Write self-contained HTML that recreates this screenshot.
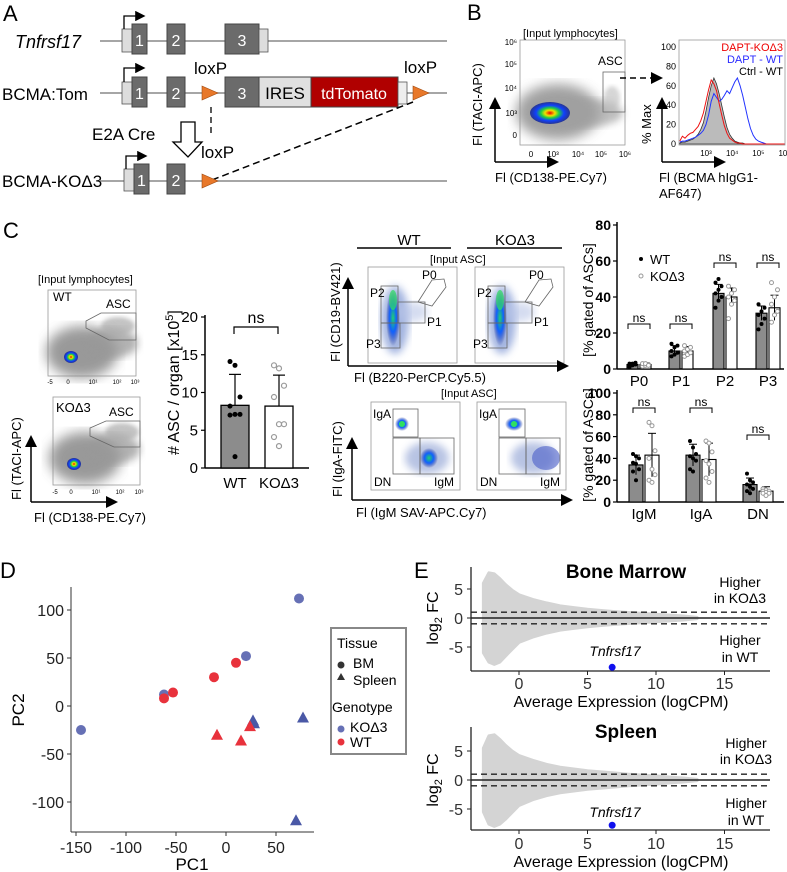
<!DOCTYPE html>
<html><head><meta charset="utf-8">
<style>
body{margin:0;background:#fff;}
svg{display:block;font-family:"Liberation Sans Narrow","Liberation Sans",sans-serif;}
</style></head>
<body>
<svg id="fig" width="787" height="872" viewBox="0 0 787 872" xmlns="http://www.w3.org/2000/svg">
<defs>
<filter id="blur2"><feGaussianBlur stdDeviation="2"/></filter>
<filter id="blur4"><feGaussianBlur stdDeviation="4"/></filter>
<filter id="blur6"><feGaussianBlur stdDeviation="6"/></filter>
<radialGradient id="heat" cx="0.5" cy="0.5" r="0.5">
<stop offset="0" stop-color="#e00"/><stop offset="0.25" stop-color="#f0e000"/><stop offset="0.45" stop-color="#20d040"/><stop offset="0.7" stop-color="#1040ff"/><stop offset="1" stop-color="#1a2a90" stop-opacity="0.9"/></radialGradient>
<radialGradient id="heat2" cx="0.5" cy="0.5" r="0.5">
<stop offset="0" stop-color="#20d070"/><stop offset="0.5" stop-color="#1060ff"/><stop offset="1" stop-color="#1a2a90" stop-opacity="0"/></radialGradient>
<marker id="ah" markerWidth="8" markerHeight="8" refX="6" refY="4" orient="auto"><path d="M0,0 L8,4 L0,8 z" fill="#000"/></marker>
</defs>

<!-- ===== Panel A ===== -->
<g>
<text x="3" y="21" font-size="22">A</text>
<g>
<line x1="100" y1="41" x2="447" y2="41" stroke="#888" stroke-width="1.5"/>
<rect x="122" y="29" width="10" height="23" fill="#ddd" stroke="#555" stroke-width="0.8"/>
<rect x="132" y="24" width="15" height="30" fill="#6b6b6b" stroke="#444"/>
<rect x="167" y="24" width="18" height="30" fill="#6b6b6b" stroke="#444"/>
<rect x="225" y="24" width="34" height="30" fill="#6b6b6b" stroke="#444"/>
<rect x="259" y="29" width="9" height="23" fill="#ddd" stroke="#555" stroke-width="0.8"/>
<text x="139.5" y="46" font-size="16" fill="#fff" text-anchor="middle">1</text>
<text x="176" y="46" font-size="16" fill="#fff" text-anchor="middle">2</text>
<text x="242" y="46" font-size="16" fill="#fff" text-anchor="middle">3</text>
<path d="M124,29 V16 H143" fill="none" stroke="#000" stroke-width="1.3" marker-end="url(#ah)"/>
<text x="15" y="48" font-size="18" font-style="italic">Tnfrsf17</text>
</g>
<g>
<line x1="100" y1="93" x2="447" y2="93" stroke="#888" stroke-width="1.5"/>
<rect x="122" y="82" width="10" height="22" fill="#ddd" stroke="#555" stroke-width="0.8"/>
<rect x="132" y="77" width="15" height="30" fill="#6b6b6b" stroke="#444"/>
<rect x="167" y="77" width="18" height="30" fill="#6b6b6b" stroke="#444"/>
<path d="M202,86 L218,93 L202,100 z" fill="#e8782a" stroke="#a04a10" stroke-width="0.6"/>
<rect x="225" y="77" width="34" height="30" fill="#6b6b6b" stroke="#444"/>
<rect x="259" y="77" width="52" height="30" fill="#e0e0e0" stroke="#444"/>
<rect x="311" y="77" width="87" height="30" fill="#b00000" stroke="#444"/>
<rect x="398" y="82" width="9" height="22" fill="#eee" stroke="#555" stroke-width="0.8"/>
<path d="M413,86 L429,93 L413,100 z" fill="#e8782a" stroke="#a04a10" stroke-width="0.6"/>
<text x="139.5" y="99" font-size="16" fill="#fff" text-anchor="middle">1</text>
<text x="176" y="99" font-size="16" fill="#fff" text-anchor="middle">2</text>
<text x="242" y="99" font-size="16" fill="#fff" text-anchor="middle">3</text>
<text x="285" y="99" font-size="17" text-anchor="middle">IRES</text>
<text x="354" y="99" font-size="16" fill="#fff" text-anchor="middle">tdTomato</text>
<path d="M124,82 V68 H143" fill="none" stroke="#000" stroke-width="1.3" marker-end="url(#ah)"/>
<text x="194" y="74" font-size="17">loxP</text>
<text x="404" y="73" font-size="17">loxP</text>
<text x="2" y="100" font-size="17">BCMA:Tom</text>
</g>
<line x1="211" y1="107" x2="211" y2="137" stroke="#000" stroke-width="1.3" stroke-dasharray="6,4"/>
<line x1="212" y1="180" x2="413" y2="102" stroke="#000" stroke-width="1.5" stroke-dasharray="7,4"/>
<path d="M181,122 H195 V142 H202 L188,157 L173,142 H181 z" fill="#fff" stroke="#000" stroke-width="1.3"/>
<text x="92" y="140" font-size="17">E2A Cre</text>
<g>
<line x1="100" y1="181" x2="447" y2="181" stroke="#888" stroke-width="1.5"/>
<rect x="124" y="169" width="10" height="22" fill="#ddd" stroke="#555" stroke-width="0.8"/>
<rect x="134" y="164" width="15" height="30" fill="#6b6b6b" stroke="#444"/>
<rect x="167" y="164" width="18" height="30" fill="#6b6b6b" stroke="#444"/>
<path d="M202,174 L218,181 L202,188 z" fill="#e8782a" stroke="#a04a10" stroke-width="0.6"/>
<text x="141.5" y="186" font-size="16" fill="#fff" text-anchor="middle">1</text>
<text x="176" y="186" font-size="16" fill="#fff" text-anchor="middle">2</text>
<path d="M126,169 V156 H145" fill="none" stroke="#000" stroke-width="1.3" marker-end="url(#ah)"/>
<text x="201" y="158" font-size="17">loxP</text>
<text x="2" y="187" font-size="17">BCMA-KOΔ3</text>
</g>
</g>

<!-- ===== Panel B ===== -->
<g>
<text x="467" y="20" font-size="22">B</text>
<g>
<rect x="520" y="40" width="105" height="105" fill="#fff" stroke="#999" stroke-width="0.8"/>
<ellipse cx="558" cy="112" rx="42" ry="28" fill="#909090" filter="url(#blur6)" opacity="0.85"/>
<ellipse cx="585" cy="113" rx="38" ry="14" fill="#a0a0a0" filter="url(#blur4)" opacity="0.7"/>
<ellipse cx="612" cy="98" rx="8" ry="12" fill="#bbb" filter="url(#blur2)" opacity="0.6"/>
<ellipse cx="550" cy="113" rx="20" ry="11" fill="url(#heat)"/>
<rect x="603" y="72" width="22" height="40" fill="none" stroke="#666" stroke-width="0.8"/>
<text x="598" y="65" font-size="12">ASC</text>
<text x="523" y="37" font-size="11">[Input lymphocytes]</text>
<g font-size="8" text-anchor="end">
<text x="517" y="45">10⁶</text><text x="517" y="67">10⁵</text><text x="517" y="91">10⁴</text><text x="517" y="116">10³</text><text x="517" y="138">0</text></g>
<g font-size="8" text-anchor="middle">
<text x="531" y="157">0</text><text x="553" y="157">10³</text><text x="578" y="157">10⁴</text><text x="601" y="157">10⁵</text><text x="625" y="157">10⁶</text></g>
<line x1="495" y1="162" x2="495" y2="100" stroke="#000" stroke-width="1.5" marker-end="url(#ah)"/>
<line x1="495" y1="162" x2="556" y2="162" stroke="#000" stroke-width="1.5" marker-end="url(#ah)"/>
<text transform="translate(482,146) rotate(-90)" font-size="13">Fl (TACI-APC)</text>
<text x="495" y="182" font-size="13">Fl (CD138-PE.Cy7)</text>
</g>
<line x1="620" y1="78" x2="660" y2="78" stroke="#000" stroke-width="1.5" stroke-dasharray="6,4" marker-end="url(#ah)"/>
<g id="histo">
<rect x="679" y="40" width="106" height="105" fill="#fff" stroke="#999" stroke-width="0.8"/>
<line x1="662" y1="162" x2="662" y2="100" stroke="#000" stroke-width="1.5" marker-end="url(#ah)"/>
<line x1="662" y1="162" x2="723" y2="162" stroke="#000" stroke-width="1.5" marker-end="url(#ah)"/>
<text transform="translate(651,144) rotate(-90)" font-size="13">% Max</text>
<text x="659" y="182" font-size="13">Fl (BCMA hIgG1-</text>
<text x="659" y="198" font-size="13">AF647)</text>
<text x="783" y="51" font-size="11" fill="#e00" text-anchor="end">DAPT-KOΔ3</text>
<text x="783" y="63" font-size="11" fill="#2a2aff" text-anchor="end">DAPT - WT</text>
<text x="783" y="75" font-size="11" fill="#000" text-anchor="end">Ctrl - WT</text>
</g>
</g>

<!-- ===== Panel C ===== -->
<g>
<text x="3" y="238" font-size="22">C</text>
<text x="38" y="283" font-size="11">[Input lymphocytes]</text>
<g>
<rect x="48" y="290" width="88" height="86" fill="#fff" stroke="#999" stroke-width="0.8"/>
<ellipse cx="82" cy="352" rx="36" ry="26" fill="#888" filter="url(#blur6)" opacity="0.85"/>
<ellipse cx="112" cy="343" rx="26" ry="15" fill="#999" filter="url(#blur4)" opacity="0.75"/>
<ellipse cx="118" cy="326" rx="17" ry="9" fill="#aaa" filter="url(#blur2)" opacity="0.7"/>
<ellipse cx="71" cy="357" rx="7" ry="6" fill="url(#heat)"/>
<polygon points="86,321 101,313 136,313 136,340 109,340 86,328" fill="none" stroke="#666" stroke-width="0.8"/>
<text x="53" y="301" font-size="12">WT</text><text x="106" y="308" font-size="12">ASC</text>
<g font-size="6" text-anchor="middle"><text x="50" y="384">-5</text><text x="68" y="384">0</text><text x="93" y="384">10¹</text><text x="117" y="384">10²</text><text x="135" y="384">10³</text></g>
</g>
<g>
<rect x="53" y="397" width="87" height="88" fill="#fff" stroke="#999" stroke-width="0.8"/>
<ellipse cx="85" cy="458" rx="36" ry="26" fill="#888" filter="url(#blur6)" opacity="0.85"/>
<ellipse cx="114" cy="449" rx="26" ry="15" fill="#999" filter="url(#blur4)" opacity="0.75"/>
<ellipse cx="122" cy="432" rx="17" ry="9" fill="#aaa" filter="url(#blur2)" opacity="0.7"/>
<ellipse cx="74" cy="464" rx="7" ry="6" fill="url(#heat)"/>
<polygon points="90,428 106,421 140,421 140,447 114,447 90,436" fill="none" stroke="#666" stroke-width="0.8"/>
<text x="56" y="412" font-size="13">KOΔ3</text><text x="109" y="416" font-size="12">ASC</text>
<g font-size="6" text-anchor="middle"><text x="55" y="494">-5</text><text x="71" y="494">0</text><text x="96" y="494">10¹</text><text x="120" y="494">10²</text><text x="139" y="494">10³</text></g>
</g>
<line x1="31" y1="502" x2="31" y2="438" stroke="#000" stroke-width="1.5" marker-end="url(#ah)"/>
<line x1="31" y1="502" x2="115" y2="502" stroke="#000" stroke-width="1.5" marker-end="url(#ah)"/>
<text transform="translate(21,500) rotate(-90)" font-size="13">Fl (TACI-APC)</text>
<text x="34" y="522" font-size="13">Fl (CD138-PE.Cy7)</text>

<g id="ascbar"></g>

<text x="409" y="245" font-size="15" text-anchor="middle">WT</text>
<text x="515" y="245" font-size="15" text-anchor="middle">KOΔ3</text>
<line x1="357" y1="248" x2="451" y2="248" stroke="#000" stroke-width="1.5"/>
<line x1="467" y1="248" x2="562" y2="248" stroke="#000" stroke-width="1.5"/>
<text x="430" y="263" font-size="11">[Input ASC]</text>
<g id="cd19wt"></g>
<g id="cd19ko"></g>
<line x1="348" y1="366" x2="348" y2="280" stroke="#000" stroke-width="1.5" marker-end="url(#ah)"/>
<line x1="348" y1="366" x2="566" y2="366" stroke="#000" stroke-width="1.5" marker-end="url(#ah)"/>
<text transform="translate(340,362) rotate(-90)" font-size="13">Fl (CD19-BV421)</text>
<text x="354" y="382" font-size="13">Fl (B220-PerCP.Cy5.5)</text>
<text x="441" y="397" font-size="11">[Input ASC]</text>
<g id="igawt"></g>
<g id="igako"></g>
<line x1="352" y1="500" x2="352" y2="440" stroke="#000" stroke-width="1.5" marker-end="url(#ah)"/>
<line x1="352" y1="500" x2="570" y2="500" stroke="#000" stroke-width="1.5" marker-end="url(#ah)"/>
<text transform="translate(342,497) rotate(-90)" font-size="13">Fl (IgA-FITC)</text>
<text x="356" y="517" font-size="13">Fl (IgM SAV-APC.Cy7)</text>

<g id="pchart"></g>
<g id="igchart"></g>
</g>

<g id="pca">
<text x="0" y="578" font-size="22">D</text>
</g>
<g id="ma">
<text x="414" y="578" font-size="22">E</text>
</g>
</svg>

<script>
const histX = [2.0,2.1,2.2,2.3,2.4,2.5,2.6,2.7,2.8,2.9,3.0,3.1,3.2,3.3,3.4,3.5,3.6,3.7,3.8,3.9,4.0,4.1,4.2,4.3,4.4,4.5,4.6,4.7,4.8,4.9,5.0,5.1,5.2,5.3,5.4,5.5,5.6,5.7,5.8,5.9,6.0];
const histCtrl = [1,2,2,3,4,5,7,10,15,22,34,48,60,68,62,52,40,28,17,10,6,3,2,1,1,0,0,0,0,0,0,0,0,0,0,0,0,0,0,0,0];
const histDaptKO = [3,8,6,9,11,12,15,18,24,32,44,56,66,62,55,42,30,19,11,6,4,2,1,1,0,0,0,0,0,0,0,0,0,0,0,0,0,0,0,0,0];
const histDaptWT = [2,3,3,4,5,6,7,9,11,14,20,30,44,52,48,44,46,50,55,52,58,64,68,60,50,38,26,16,9,5,3,2,1,0,0,0,0,0,0,0,0];
const ascGroups = ['WT','KOΔ3'];
const ascMean = [8.3, 8.2];
const ascSD = [4.1, 4.1];
const ascWT = [14.1, 13.6, 9.4, 8.2, 7.1, 7.1, 7.0, 1.5];
const ascKO = [13.6, 13.2, 10.9, 9.4, 5.8, 5.8, 4.1, 2.9];
const ascTicks = [0,5,10,15,20];
const subsetCats = ['P0','P1','P2','P3'];
const subsetWT = [2.5, 10, 42, 31];
const subsetKO = [2.5, 10, 40, 34];
const subsetWTsd = [1, 3, 5, 4];
const subsetKOsd = [1, 2.5, 5, 7];
const subsetWTpts = [[1,2,2.5,3,3,3.5,2],[7,8,9,10,12,13,14],[34,38,40,42,44,46,48,50],[22,25,28,30,32,34,36]];
const subsetKOpts = [[1.5,2,2.5,3,3,2],[7,8,9,10,11,12,13],[28,36,38,40,42,44,46],[26,30,32,36,40,44,48]];
const subsetTicks = [0,20,40,60,80];
const isoCats = ['IgM','IgA','DN'];
const isoWT = [34, 43, 16];
const isoKO = [43, 39, 10];
const isoWTsd = [9, 10, 6];
const isoKOsd = [20, 15, 4];
const isoWTpts = [[44,42,40,36,35,30,28,20],[56,50,44,42,40,38,30,28],[26,20,18,16,14,12,10,8]];
const isoKOpts = [[73,70,47,40,30,25,20,18],[56,54,46,38,35,28,22,18],[12,11,10,10,9,8,8,6]];
const isoTicks = [0,20,40,60,80,100];
const pcaBMKO_x = [-145,-62,20,73];   const pcaBMKO_y = [-25,12,52,112];
const pcaBMWT_x = [-62,-53,-12,10];   const pcaBMWT_y = [8,14,30,45];
const pcaSpKO_x = [27,28,77,70];      const pcaSpKO_y = [-15,-18,-12,-119];
const pcaSpWT_x = [-9,15,24];         const pcaSpWT_y = [-30,-36,-21];
const pcaXTicks = [-150,-100,-50,0,50];
const pcaYTicks = [-100,-50,0,50,100];
const maEnvX = [-2.6,-2.2,-1.8,-1.4,-1,-0.5,0,1,2,3,4,5,6,7,8,9,10,11,12,13];
const maBMUpper = [6.0,7.8,7.6,6.8,5.8,4.8,4.0,3.2,2.6,2.1,1.8,1.5,1.3,1.1,0.95,0.8,0.65,0.5,0.35,0.1];
const maBMLower = [-6.0,-7.6,-8.0,-7.6,-6.6,-5.4,-4.2,-3.3,-2.6,-2.1,-1.8,-1.5,-1.3,-1.1,-0.95,-0.8,-0.65,-0.5,-0.35,-0.1];
const maSpUpper = [5.5,7.6,7.8,7.0,6.0,5.0,4.2,3.4,2.7,2.2,1.9,1.6,1.4,1.2,1.0,0.85,0.7,0.5,0.35,0.1];
const maSpLower = [-5.5,-7.6,-8.0,-7.6,-6.8,-5.6,-4.4,-3.4,-2.7,-2.2,-1.9,-1.6,-1.4,-1.2,-1.0,-0.85,-0.7,-0.5,-0.35,-0.1];
const maGeneBM = [6.8, -8.5];
const maGeneSp = [6.8, -7.8];
const maXTicks = [0,5,10,15];
const maYTicks = [-5,0,5];

const NS='http://www.w3.org/2000/svg';
function mk(tag, attrs, name, parent){
  const e=document.createElementNS(NS,tag);
  for(const k in attrs) e.setAttribute(k,attrs[k]);
  
  
  parent.appendChild(e); return e;
}
function txt(x,y,s,size,parent,name,extra){
  const a=Object.assign({x:x,y:y,'font-size':size},extra||{});
  const e=mk('text',a,name,parent); e.textContent=s; return e;
}

(function(){
  const g=document.getElementById('histo');
  const hx=v=>706+(v-3)*26.2, hy=v=>144-v*0.97;
  const ticksY=[0,20,40,60,80,100];
  ticksY.forEach(t=>{ txt(676,hy(t)+3,String(t),9,g,'histo-y-tick',{'text-anchor':'end'}); });
  ['10³','10⁴','10⁵','10⁶'].forEach((s,i)=>{ txt(hx(3+i),156,s,8,g,'histo-x-tick',{'text-anchor':'middle'}); });
  let d='M'+hx(histX[0])+','+hy(0);
  histX.forEach((x,i)=>{ d+=' L'+hx(x).toFixed(1)+','+hy(histCtrl[i]).toFixed(1); });
  d+=' L'+hx(histX[histX.length-1])+','+hy(0)+' Z';
  mk('path',{d:d,fill:'#bbb',stroke:'#333','stroke-width':0.8},'histo-ctrl-wt',g);
  function line(arr,col,name){
    let p=''; histX.forEach((x,i)=>{ p+=(i?' L':'M')+hx(x).toFixed(1)+','+hy(arr[i]).toFixed(1); });
    mk('path',{d:p,fill:'none',stroke:col,'stroke-width':1},name,g);
  }
  line(histDaptWT,'#2233ff','histo-dapt-wt');
  line(histDaptKO,'#ee1111','histo-dapt-ko');
})();

(function(){
  const g=document.getElementById('ascbar');
  const y=v=>468-v*7.55;
  const xc=[235,279];
  mk('line',{x1:205,y1:y(20)-2,x2:205,y2:468,stroke:'#000','stroke-width':1.5},'asc-y-axis',g);
  mk('line',{x1:205,y1:468,x2:309,y2:468,stroke:'#000','stroke-width':1.5},'asc-x-axis',g);
  ascTicks.forEach(t=>{
    mk('line',{x1:201,y1:y(t),x2:205,y2:y(t),stroke:'#000','stroke-width':1.2},'asc-y-tick',g);
    txt(198,y(t)+5,String(t),15,g,'asc-y-tick-label',{'text-anchor':'end'});
  });
  ascGroups.forEach((c,i)=>{
    mk('rect',{x:xc[i]-14,y:y(ascMean[i]),width:28,height:468-y(ascMean[i]),fill:i?'#fff':'#8c8c8c',stroke:'#000','stroke-width':1.3},'asc-bar-'+i,g);
    mk('line',{x1:xc[i],y1:y(ascMean[i]+ascSD[i]),x2:xc[i],y2:y(ascMean[i]),stroke:'#000','stroke-width':1.2},'asc-error',g);
    mk('line',{x1:xc[i]-6,y1:y(ascMean[i]+ascSD[i]),x2:xc[i]+6,y2:y(ascMean[i]+ascSD[i]),stroke:'#000','stroke-width':1.2},'asc-error-cap',g);
    txt(xc[i],488,c,15,g,'asc-x-label',{'text-anchor':'middle'});
  });
  ascWT.forEach((v,i)=>{ mk('circle',{cx:xc[0]+((i%3)-1)*5,cy:y(v),r:2.5,fill:'#000'},'asc-wt-point',g); });
  ascKO.forEach((v,i)=>{ mk('circle',{cx:xc[1]+((i%3)-1)*5,cy:y(v),r:2.5,fill:'#fff',stroke:'#999','stroke-width':1.2},'asc-ko-point',g); });
  mk('path',{d:'M234,334 V327 H278 V334',fill:'none',stroke:'#000','stroke-width':1.2},'asc-ns-bracket',g);
  txt(256,323,'ns',16,g,'asc-ns',{'text-anchor':'middle'});
  const t=txt(0,0,'',16,g,'asc-y-axis-title',{transform:'translate(179,455) rotate(-90)'});
  t.innerHTML='# ASC / organ [x10<tspan dy="-6" font-size="11">5</tspan><tspan dy="6">]</tspan>';
})();

function cd19Plot(id,dx){
  const g=document.getElementById(id);
  mk('rect',{x:368+dx,y:267,width:89,height:96,fill:'#fff',stroke:'#999','stroke-width':0.8},'plot-frame',g);
  mk('ellipse',{cx:395+dx,cy:320,rx:14,ry:34,fill:'#8aa0d8',filter:'url(#blur4)',opacity:0.8},'cloud',g);
  mk('ellipse',{cx:410+dx,cy:312,rx:18,ry:10,fill:'#b8c4e6',filter:'url(#blur4)',opacity:0.6},'cloud',g);
  mk('ellipse',{cx:393+dx,cy:318,rx:7,ry:28,fill:'url(#heat2)'},'dense-core',g);
  mk('ellipse',{cx:393+dx,cy:300,rx:4,ry:10,fill:'#30e060',opacity:0.7},'dense-core',g);
  mk('polygon',{points:[[418,302],[432,280],[444,279],[446,287],[432,306]].map(p=>(p[0]+dx)+','+p[1]).join(' '),fill:'none',stroke:'#666','stroke-width':0.8},'gate-p0',g);
  mk('rect',{x:381+dx,y:286,width:17,height:37,fill:'none',stroke:'#666','stroke-width':0.8},'gate-p2',g);
  mk('rect',{x:398+dx,y:302,width:27,height:21,fill:'none',stroke:'#666','stroke-width':0.8},'gate-p1',g);
  mk('rect',{x:381+dx,y:323,width:19,height:25,fill:'none',stroke:'#666','stroke-width':0.8},'gate-p3',g);
  txt(422+dx,279,'P0',12,g,'label-p0');
  txt(370+dx,297,'P2',12,g,'label-p2');
  txt(427+dx,326,'P1',12,g,'label-p1');
  txt(366+dx,348,'P3',12,g,'label-p3');
}
cd19Plot('cd19wt',0); cd19Plot('cd19ko',107);
function igPlot(id,dx,wt){
  const g=document.getElementById(id);
  mk('rect',{x:371+dx,y:402,width:89,height:88,fill:'#fff',stroke:'#999','stroke-width':0.8},'plot-frame',g);
  mk('ellipse',{cx:427+dx,cy:458,rx:22,ry:16,fill:'#9aaad8',filter:'url(#blur4)',opacity:0.7},'cloud',g);
  mk('ellipse',{cx:(wt?429:440)+dx,cy:458,rx:wt?9:14,ry:wt?10:12,fill:wt?'url(#heat2)':'#4a5ec8',opacity:wt?1:0.6},'igm-cluster',g);
  mk('ellipse',{cx:(wt?402:408)+dx,cy:424,rx:wt?7:9,ry:7,fill:'url(#heat2)'},'iga-cluster',g);
  mk('circle',{cx:(wt?402:408)+dx,cy:424,r:3,fill:'#30e060'},'iga-core',g);
  const b=wt?[393,418,420,454]:[393,419,420,454];
  mk('rect',{x:b[0]+dx,y:409,width:b[1]-b[0],height:28,fill:'none',stroke:'#666','stroke-width':0.8},'gate-iga',g);
  mk('rect',{x:b[0]+dx,y:438,width:b[2]-b[0],height:36,fill:'none',stroke:'#666','stroke-width':0.8},'gate-dn',g);
  mk('rect',{x:b[2]+dx,y:438,width:b[3]-b[2],height:36,fill:'none',stroke:'#666','stroke-width':0.8},'gate-igm',g);
  txt(373+dx,418,'IgA',12,g,'label-iga');
  txt(374+dx,486,'DN',12,g,'label-dn');
  txt(434+dx,486,'IgM',12,g,'label-igm');
}
igPlot('igawt',0,true); igPlot('igako',106,false);

function grouped(id,cats,wt,ko,wsd,ksd,wpts,kpts,ticks,y0,pxPer,centers,bw,nsY,title,ty){
  const g=document.getElementById(id);
  const y=v=>y0-v*pxPer;
  mk('line',{x1:617,y1:y(ticks[ticks.length-1])-3,x2:617,y2:y0,stroke:'#000','stroke-width':1.5},'y-axis',g);
  mk('line',{x1:617,y1:y0,x2:784,y2:y0,stroke:'#000','stroke-width':1.5},'x-axis',g);
  ticks.forEach(t=>{
    mk('line',{x1:613,y1:y(t),x2:617,y2:y(t),stroke:'#000','stroke-width':1.2},'y-tick',g);
    txt(611,y(t)+5,String(t),14,g,'y-tick-label',{'text-anchor':'end','font-weight':'bold'});
  });
  cats.forEach((c,i)=>{
    const cx=centers[i];
    [[wt,wsd,wpts,'#8c8c8c',-1],[ko,ksd,kpts,'#fff',1]].forEach(s=>{
      const bx=cx+(s[4]<0?-bw-1:1);
      const mid=bx+bw/2;
      mk('rect',{x:bx,y:y(s[0][i]),width:bw,height:y0-y(s[0][i]),fill:s[3],stroke:'#000','stroke-width':1.1},'bar-'+c,g);
      mk('line',{x1:mid,y1:y(s[0][i]+s[1][i]),x2:mid,y2:y(Math.max(0,s[0][i]-s[1][i])),stroke:'#000','stroke-width':1},'error-bar',g);
      mk('line',{x1:mid-4,y1:y(s[0][i]+s[1][i]),x2:mid+4,y2:y(s[0][i]+s[1][i]),stroke:'#000','stroke-width':1},'error-cap',g);
      s[2][i].forEach((v,j)=>{
        if(s[4]<0) mk('circle',{cx:mid+((j%3)-1)*3,cy:y(v),r:2,fill:'#000'},'point-wt',g);
        else mk('circle',{cx:mid+((j%3)-1)*3,cy:y(v),r:2,fill:'#fff',stroke:'#999','stroke-width':1},'point-ko',g);
      });
    });
    txt(cx,y0+17,c,15,g,'x-label',{'text-anchor':'middle'});
    mk('path',{d:'M'+(cx-11)+','+(nsY[i]+5)+' V'+nsY[i]+' H'+(cx+11)+' V'+(nsY[i]+5),fill:'none',stroke:'#000','stroke-width':1},'ns-bracket',g);
    txt(cx,nsY[i]-2,'ns',12,g,'ns-label',{'text-anchor':'middle'});
  });
  txt(0,0,title,14,g,'y-axis-title',{transform:'translate(593,'+ty+') rotate(-90)','text-anchor':'middle'});
}
grouped('pchart',subsetCats,subsetWT,subsetKO,subsetWTsd,subsetKOsd,subsetWTpts,subsetKOpts,subsetTicks,369,1.8,[639,681,725,768],11,[324,324,263,263],'[% gated of ASCs]',300);
grouped('igchart',isoCats,isoWT,isoKO,isoWTsd,isoKOsd,isoWTpts,isoKOpts,isoTicks,502,1.09,[644,701,758],14,[408,408,435],'[% gated of ASCs]',445);
(function(){
  const g=document.getElementById('pchart');
  mk('circle',{cx:641,cy:259,r:2,fill:'#000'},'legend-wt-marker',g);
  txt(650,264,'WT',13,g,'legend-wt');
  mk('circle',{cx:641,cy:276,r:2,fill:'#fff',stroke:'#999'},'legend-ko-marker',g);
  txt(650,281,'KOΔ3',13,g,'legend-ko');
})();

(function(){
  const g=document.getElementById('pca');
  const x=v=>226+v*1.0, y=v=>706-v*0.96;
  mk('line',{x1:71,y1:587,x2:71,y2:832,stroke:'#333','stroke-width':1},'pca-y-axis',g);
  mk('line',{x1:71,y1:832,x2:314,y2:832,stroke:'#333','stroke-width':1},'pca-x-axis',g);
  pcaYTicks.forEach(t=>{
    mk('line',{x1:67,y1:y(t),x2:71,y2:y(t),stroke:'#333'},'pca-y-tick',g);
    txt(64,y(t)+6,String(t),16,g,'pca-y-tick-label',{'text-anchor':'end',fill:'#222'});
  });
  pcaXTicks.forEach(t=>{
    mk('line',{x1:x(t),y1:832,x2:x(t),y2:836,stroke:'#333'},'pca-x-tick',g);
    txt(x(t),853,String(t),16,g,'pca-x-tick-label',{'text-anchor':'middle',fill:'#222'});
  });
  txt(192,870,'PC1',17,g,'pca-x-axis-title',{'text-anchor':'middle'});
  txt(0,0,'PC2',17,g,'pca-y-axis-title',{transform:'translate(24,710) rotate(-90)','text-anchor':'middle'});
  function circ(xs,ys,col,name){ xs.forEach((v,i)=>{ mk('circle',{cx:x(v),cy:y(ys[i]),r:5,fill:col},name,g); }); }
  function tri(xs,ys,col,name){ xs.forEach((v,i)=>{ const cx=x(v),cy=y(ys[i]); mk('path',{d:'M'+cx+','+(cy-6)+' L'+(cx+6)+','+(cy+5)+' L'+(cx-6)+','+(cy+5)+' Z',fill:col},name,g); }); }
  circ(pcaBMKO_x,pcaBMKO_y,'#6670b5','pca-bm-ko');
  circ(pcaBMWT_x,pcaBMWT_y,'#e8323c','pca-bm-wt');
  tri(pcaSpKO_x,pcaSpKO_y,'#4a58a6','pca-spleen-ko');
  tri(pcaSpWT_x,pcaSpWT_y,'#e8323c','pca-spleen-wt');
  mk('rect',{x:331,y:628,width:75,height:126,fill:'#fff',stroke:'#888','stroke-width':2},'pca-legend-box',g);
  txt(337,648,'Tissue',14,g,'legend-tissue-title');
  mk('circle',{cx:341,cy:665,r:3.5,fill:'#333'},'legend-bm-marker',g);
  txt(353,668,'BM',14,g,'legend-bm');
  mk('path',{d:'M341,673 L345,680 L337,680 Z',fill:'#333'},'legend-spleen-marker',g);
  txt(353,685,'Spleen',14,g,'legend-spleen');
  txt(332,712,'Genotype',14,g,'legend-genotype-title');
  mk('circle',{cx:341,cy:729,r:3.5,fill:'#6670b5'},'legend-ko-marker',g);
  txt(350,732,'KOΔ3',14,g,'legend-ko');
  mk('circle',{cx:341,cy:742,r:3.5,fill:'#e8323c'},'legend-wt-marker',g);
  txt(350,747,'WT',14,g,'legend-wt');
})();

function maPlot(top,zeroY,bottomY,upper,lower,gene,title,titleY,hk,hw,geneLblY,tickLblY,axLblY){
  const g=document.getElementById('ma');
  const x=v=>519+v*13.7, y=v=>zeroY-v*5.8;
  let d='M'+x(maEnvX[0])+','+y(upper[0]);
  maEnvX.forEach((v,i)=>{ d+=' L'+x(v).toFixed(1)+','+y(upper[i]).toFixed(1); });
  for(let i=maEnvX.length-1;i>=0;i--) d+=' L'+x(maEnvX[i]).toFixed(1)+','+y(lower[i]).toFixed(1);
  d+=' Z';
  mk('path',{d:d,fill:'#d4d4d4',stroke:'#d4d4d4','stroke-width':3,'stroke-linejoin':'round'},'ma-cloud',g);
  mk('line',{x1:471,y1:top,x2:471,y2:bottomY,stroke:'#222','stroke-width':1.3},'ma-y-axis',g);
  mk('line',{x1:471,y1:bottomY,x2:770,y2:bottomY,stroke:'#222','stroke-width':1.3},'ma-x-axis',g);
  mk('line',{x1:471,y1:y(0),x2:770,y2:y(0),stroke:'#222','stroke-width':1.5},'ma-zero-line',g);
  mk('line',{x1:471,y1:y(1),x2:770,y2:y(1),stroke:'#222','stroke-width':1.3,'stroke-dasharray':'6,4'},'ma-threshold-up',g);
  mk('line',{x1:471,y1:y(-1),x2:770,y2:y(-1),stroke:'#222','stroke-width':1.3,'stroke-dasharray':'6,4'},'ma-threshold-down',g);
  maYTicks.forEach(t=>{
    mk('line',{x1:467,y1:y(t),x2:471,y2:y(t),stroke:'#222'},'ma-y-tick',g);
    txt(463,y(t)+6,String(t),16,g,'ma-y-tick-label',{'text-anchor':'end',fill:'#333'});
  });
  maXTicks.forEach(t=>{
    mk('line',{x1:x(t),y1:bottomY,x2:x(t),y2:bottomY+4,stroke:'#222'},'ma-x-tick',g);
    txt(x(t),tickLblY,String(t),16,g,'ma-x-tick-label',{'text-anchor':'middle',fill:'#333'});
  });
  txt(621,axLblY,'Average Expression (logCPM)',16,g,'ma-x-axis-title',{'text-anchor':'middle'});
  const yl=txt(0,0,'',16,g,'ma-y-axis-title',{transform:'translate(438,'+y(0)+') rotate(-90)','text-anchor':'middle'});
  yl.innerHTML='log<tspan font-size="11" dy="4">2</tspan><tspan dy="-4"> FC</tspan>';
  txt(626,titleY,title,19,g,'ma-title',{'text-anchor':'middle','font-weight':'bold'});
  txt(hk[0],hk[1],'Higher',14,g,'ma-label-higher-ko',{'text-anchor':'middle'});
  txt(hk[0],hk[1]+16,'in KOΔ3',14,g,'ma-label-higher-ko',{'text-anchor':'middle'});
  txt(hw[0],hw[1],'Higher',14,g,'ma-label-higher-wt',{'text-anchor':'middle'});
  txt(hw[0],hw[1]+17,'in WT',14,g,'ma-label-higher-wt',{'text-anchor':'middle'});
  txt(615,geneLblY,'Tnfrsf17',14,g,'ma-gene-label',{'text-anchor':'middle','font-style':'italic'});
  mk('circle',{cx:x(gene[0]),cy:y(gene[1]),r:3.5,fill:'#1010ee'},'ma-gene-point',g);
}
maPlot(567,618,671,maBMUpper,maBMLower,maGeneBM,'Bone Marrow',578,[740,587],[740,645],656,689,707);
maPlot(727,780,830,maSpUpper,maSpLower,maGeneSp,'Spleen',738,[746,748],[746,808],817,849,867);
</script>
</body></html>
